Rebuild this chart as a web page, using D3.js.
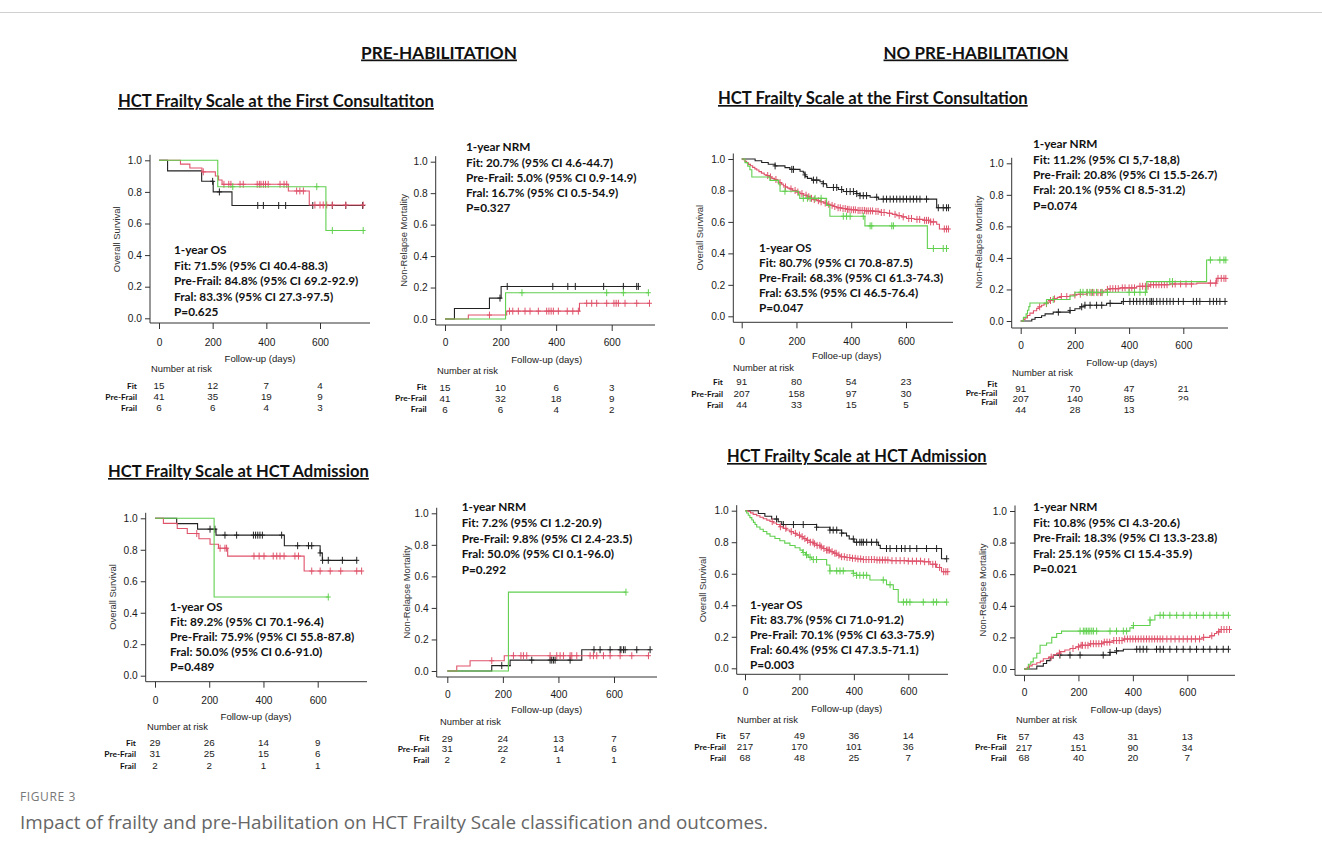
<!DOCTYPE html>
<html>
<head>
<meta charset="utf-8">
<script src="https://cdn.jsdelivr.net/npm/d3@7"></script>
<style>
  body { margin: 0; background: #fff; }
  svg text { font-family: "Liberation Sans", Arial, sans-serif; }
</style>
</head>
<body>
<script>
// shared axis / table values
const xTicks = [0, 200, 400, 600];
const yTicks = [0, 0.2, 0.4, 0.6, 0.8, 1.0];
const groups = ['Fit', 'Pre-Frail', 'Frail'];
const groupColors = ['#222222', '#DF536B', '#61D04F'];

// ---- PRE-HABILITATION, first consultation, OS ----
const A_fit = [[0,1],[32,0.933],[159,0.867],[202,0.8],[272,0.714]];
const A_fitCens = [200,225,368,389,446,472,573,646,696,759];
const A_pre = [[0,1],[80,0.976],[115,0.951],[160,0.927],[210,0.901],[222,0.875],[235,0.848],[482,0.806],[560,0.717]];
const A_preCens = [165,242,260,268,302,314,366,374,380,389,397,407,451,466,476,513,525,538,581,600,612,625,646,696,761];
const A_frail = [[0,1],[219,0.833],[622,0.556]];
const A_frailCens = [275,588,646,761];
const A_notes = ['1-year OS','Fit: 71.5% (95% CI 40.4-88.3)','Pre-Frail: 84.8% (95% CI 69.2-92.9)','Fral: 83.3% (95% CI 27.3-97.5)','P=0.625'];
const A_risk = [[15,12,7,4],[41,35,19,9],[6,6,4,3]];

// ---- PRE-HABILITATION, first consultation, NRM ----
const B_fit = [[0,0],[34,0.067],[160,0.133],[202,0.207]];
const B_fitCens = [198,224,388,442,469,571,642,690,696];
const B_pre = [[0,0],[84,0.025],[222,0.05],[484,0.1]];
const B_preCens = [160,232,244,264,288,306,336,366,374,382,390,408,440,460,480,510,528,546,582,608,616,624,648,690,736];
const B_frail = [[0,0],[218,0.167]];
const B_frailCens = [277,582,642,732];
const B_notes = ['1-year NRM','Fit: 20.7% (95% CI 4.6-44.7)','Pre-Frail: 5.0% (95% CI 0.9-14.9)','Fral: 16.7% (95% CI 0.5-54.9)','P=0.327'];
const B_risk = [[15,10,6,3],[41,32,18,9],[6,6,4,2]];

// ---- NO PRE-HABILITATION, first consultation, OS ----
const C_fit = [[0,1],[49,0.989],[73,0.978],[97,0.967],[122,0.956],[158,0.945],[176,0.934],[213,0.922],[225,0.911],[231,0.899],[232,0.888],[240,0.877],[256,0.866],[286,0.855],[298,0.843],[310,0.831],[311,0.819],[353,0.806],[371,0.793],[420,0.78],[432,0.767],[469,0.757],[499,0.745],[712,0.69]];
const C_fitCens = [122,183,189,231,262,274,298,335,347,365,383,396,408,420,432,444,456,493,517,529,542,554,566,578,590,602,615,627,639,651,675,718,736,748,755];
const C_pre = [[0,1],[6,0.995],[12,0.985],[18,0.976],[25,0.966],[32,0.957],[40,0.947],[48,0.937],[55,0.93],[63,0.92],[72,0.91],[82,0.9],[91,0.895],[100,0.886],[110,0.877],[120,0.87],[128,0.862],[136,0.85],[145,0.84],[152,0.83],[160,0.822],[168,0.815],[176,0.81],[186,0.8],[198,0.79],[213,0.78],[225,0.77],[240,0.76],[250,0.75],[262,0.742],[275,0.735],[286,0.728],[300,0.72],[312,0.712],[322,0.705],[335,0.698],[347,0.69],[365,0.685],[383,0.68],[400,0.677],[420,0.673],[450,0.67],[481,0.667],[505,0.66],[530,0.655],[550,0.648],[566,0.64],[585,0.632],[602,0.622],[630,0.616],[663,0.61],[690,0.6],[712,0.585],[722,0.555]];
const C_preCens = [95,105,125,140,160,180,195,205,220,235,245,255,265,280,290,305,318,330,340,352,360,370,378,386,392,400,408,415,425,432,440,448,455,462,470,478,490,498,510,520,540,560,575,590,610,620,640,650,668,675,682,690,700,740,748,755];
const C_frail = [[0,1],[12,0.977],[22,0.955],[30,0.932],[37,0.886],[103,0.864],[134,0.841],[140,0.795],[207,0.772],[212,0.75],[310,0.705],[322,0.636],[450,0.575],[678,0.431]];
const C_frailCens = [158,225,240,250,268,290,371,383,396,444,469,475,548,554,700,736,748];
const C_notes = ['1-year OS','Fit: 80.7% (95% CI 70.8-87.5)','Pre-Frail: 68.3% (95% CI 61.3-74.3)','Fral: 63.5% (95% CI 46.5-76.4)','P=0.047'];
const C_risk = [[91,80,54,23],[207,158,97,30],[44,33,15,5]];

// ---- NO PRE-HABILITATION, first consultation, NRM ----
const D_fit = [[0,0],[41,0.011],[53,0.022],[77,0.033],[90,0.045],[120,0.056],[182,0.067],[200,0.078],[219,0.09],[237,0.1],[317,0.112],[373,0.124]];
const D_fitCens = [139,182,225,237,256,280,299,330,379,403,416,428,440,452,465,477,483,489,502,514,526,539,551,563,582,600,637,649,661,698,711,723,735,754];
const D_pre = [[0,0],[10,0.01],[16,0.02],[25,0.035],[34,0.05],[47,0.065],[59,0.08],[68,0.09],[77,0.1],[86,0.11],[96,0.12],[108,0.13],[120,0.14],[135,0.15],[150,0.155],[182,0.165],[207,0.17],[243,0.18],[305,0.19],[320,0.2],[330,0.205],[366,0.21],[428,0.22],[477,0.23],[551,0.235],[650,0.24],[723,0.27]];
const D_preCens = [70,95,110,125,150,170,200,220,245,260,270,285,295,300,320,330,340,350,360,375,385,400,410,420,440,450,460,470,480,490,500,510,520,530,540,560,570,590,610,630,700,720,728,740,750,757];
const D_frail = [[0,0],[10,0.023],[20,0.045],[25,0.068],[30,0.091],[34,0.114],[96,0.136],[182,0.159],[200,0.182],[465,0.25],[686,0.387]];
const D_frailCens = [95,120,220,230,245,255,265,280,300,320,400,420,440,460,550,560,700,735,750,757];
const D_notes = ['1-year NRM','Fit: 11.2% (95% CI 5,7-18,8)','Pre-Frail: 20.8% (95% CI 15.5-26.7)','Fral: 20.1% (95% CI 8.5-31.2)','P=0.074'];
const D_risk = [[91,70,47,21],[207,140,85,29],[44,28,13]];

// ---- PRE-HABILITATION, HCT admission, OS ----
const E_fit = [[0,1],[80,0.966],[157,0.931],[225,0.893],[477,0.826],[609,0.78],[617,0.733]];
const E_fitCens = [203,221,258,301,363,371,379,387,396,467,526,566,578,609,618,639,691,744];
const E_pre = [[0,1],[31,0.968],[82,0.935],[119,0.903],[162,0.87],[203,0.835],[234,0.81],[268,0.76],[550,0.665]];
const E_preCens = [154,240,258,264,365,384,402,436,449,461,476,516,529,578,609,646,685,744,762];
const E_frail = [[0,1],[218,0.5]];
const E_frailCens = [639];
const E_notes = ['1-year OS','Fit: 89.2% (95% CI 70.1-96.4)','Pre-Frail: 75.9% (95% CI 55.8-87.8)','Fral: 50.0% (95% CI 0.6-91.0)','P=0.489'];
const E_risk = [[29,26,14,9],[31,25,15,6],[2,2,1,1]];

// ---- PRE-HABILITATION, HCT admission, NRM ----
const F_fit = [[0,0],[160,0.034],[226,0.069],[484,0.135]];
const F_fitCens = [196,220,304,370,376,382,388,442,528,550,586,622,625,634,640,682,730];
const F_pre = [[0,0],[34,0.032],[82,0.065],[205,0.097]];
const F_preCens = [160,238,265,274,286,370,394,406,418,442,448,466,514,526,538,562,586,622,664,724];
const F_frail = [[0,0],[220,0.5]];
const F_frailCens = [643];
const F_notes = ['1-year NRM','Fit: 7.2% (95% CI 1.2-20.9)','Pre-Frail: 9.8% (95% CI 2.4-23.5)','Fral: 50.0% (95% CI 0.1-96.0)','P=0.292'];
const F_risk = [[29,24,13,7],[31,22,14,6],[2,2,1,1]];

// ---- NO PRE-HABILITATION, HCT admission, OS ----
const G_fit = [[0,1],[49,0.982],[73,0.965],[98,0.947],[122,0.93],[135,0.912],[263,0.895],[312,0.877],[355,0.858],[373,0.84],[383,0.82],[401,0.8],[490,0.78],[497,0.76],[722,0.695]];
const G_fitCens = [116,141,178,214,263,312,324,337,355,398,410,422,429,435,447,465,484,520,533,557,575,588,606,631,667,704,741];
const G_pre = [[0,1],[12,0.995],[20,0.986],[30,0.977],[43,0.968],[55,0.958],[67,0.949],[80,0.94],[92,0.931],[104,0.922],[116,0.912],[128,0.898],[140,0.888],[152,0.878],[165,0.867],[178,0.856],[190,0.845],[202,0.835],[214,0.823],[226,0.812],[239,0.8],[251,0.79],[263,0.78],[276,0.77],[288,0.76],[300,0.75],[312,0.74],[325,0.73],[337,0.718],[349,0.708],[367,0.703],[386,0.698],[410,0.694],[435,0.69],[484,0.687],[533,0.683],[600,0.68],[655,0.676],[680,0.66],[704,0.64],[722,0.613]];
const G_preCens = [100,130,150,170,185,200,210,220,230,240,250,255,265,275,280,290,300,305,310,320,330,335,345,355,365,375,385,395,405,415,425,435,445,455,465,475,485,495,505,515,525,540,555,570,585,600,615,630,645,660,675,690,700,715,730,738,745];
const G_frail = [[0,1],[6,0.985],[12,0.971],[18,0.956],[25,0.941],[31,0.926],[37,0.912],[43,0.897],[55,0.882],[67,0.868],[80,0.853],[92,0.838],[110,0.824],[128,0.809],[146,0.794],[165,0.779],[184,0.765],[202,0.75],[212,0.735],[222,0.72],[232,0.705],[245,0.69],[300,0.655],[312,0.618],[398,0.603],[410,0.59],[459,0.56],[520,0.53],[545,0.5],[563,0.42]];
const G_frailCens = [214,226,239,251,263,312,337,349,361,398,410,422,435,447,508,533,582,594,606,655,692,704,741];
const G_notes = ['1-year OS','Fit: 83.7% (95% CI 71.0-91.2)','Pre-Frail: 70.1% (95% CI 63.3-75.9)','Fral: 60.4% (95% CI 47.3.5-71.1)','P=0.003'];
const G_risk = [[57,49,36,14],[217,170,101,36],[68,48,25,7]];

// ---- NO PRE-HABILITATION, HCT admission, NRM ----
const H_fit = [[0,0],[47,0.018],[71,0.035],[83,0.053],[96,0.07],[108,0.088],[316,0.105],[340,0.115],[365,0.125]];
const H_fitCens = [132,169,206,291,316,340,414,426,438,451,487,500,512,536,561,585,610,634,659,683,708,732,751];
const H_pre = [[0,0],[12,0.01],[20,0.02],[30,0.03],[47,0.04],[60,0.05],[71,0.065],[90,0.075],[108,0.09],[120,0.1],[132,0.11],[150,0.12],[169,0.13],[190,0.14],[206,0.15],[242,0.16],[291,0.17],[328,0.18],[365,0.19],[659,0.2],[683,0.21],[700,0.225],[708,0.235],[720,0.25]];
const H_preCens = [100,130,180,200,210,215,225,235,245,255,265,275,285,295,305,315,330,340,350,360,370,380,390,400,410,420,430,440,450,460,470,480,490,500,510,525,540,555,570,585,600,615,630,645,660,690,715,725,735,745,755];
const H_frail = [[0,0],[16,0.03],[25,0.045],[34,0.07],[47,0.1],[59,0.15],[83,0.165],[102,0.2],[120,0.225],[138,0.24],[389,0.26],[402,0.275],[463,0.31],[481,0.34]];
const H_frailCens = [206,218,224,230,236,242,249,255,267,316,340,365,377,402,463,500,512,536,561,585,610,634,659,683,708,732,751];
const H_notes = ['1-year NRM','Fit: 10.8% (95% CI 4.3-20.6)','Pre-Frail: 18.3% (95% CI 13.3-23.8)','Fral: 25.1% (95% CI 15.4-35.9)','P=0.021'];
const H_risk = [[57,43,31,13],[217,151,90,34],[68,40,20,7]];

const W = 1322, H = 859;
const svg = d3.select('body').append('svg').attr('width', W).attr('height', H);

// fit a text element to a measured width
const fitWidth = (sel, w) => {
    const len = sel.node().getComputedTextLength();
    const fs = parseFloat(sel.style('font-size'));
    sel.style('font-size', (fs * w / len) + 'px');
};

const panels = [
  { ylab: 'Overall Survival', xlab: 'Follow-up (days)', curves: [[A_fit,A_fitCens],[A_pre,A_preCens],[A_frail,A_frailCens]], notes: A_notes, risk: A_risk,
    g: { ax: 150, x0: 159, x600: 320, xEnd: 370, y1: 160.3, y0: 318.3, axisY: 323, tickY: 342, xlabX: 260, xlabY: 359, narX: 151, narY: 369, rowY: [386,397,408], rowLabY: [386,397,408], rowLabX: 137, noteX: 174, noteY: 250, noteDy: 15.5, ylabX: 117 } },
  { ylab: 'Non-Relapse Mortality', xlab: 'Follow-up (days)', curves: [[B_fit,B_fitCens],[B_pre,B_preCens],[B_frail,B_frailCens]], notes: B_notes, risk: B_risk,
    g: { ax: 435.7, x0: 445, x600: 611.7, xEnd: 655, y1: 161.7, y0: 319, axisY: 325, tickY: 342.7, xlabX: 546.7, xlabY: 360, narX: 437, narY: 370.7, rowY: [387.3,398.3,409.3], rowLabY: [387.3,398.3,409.3], rowLabX: 426.7, noteX: 466, noteY: 147, noteDy: 15.3, ylabX: 404 } },
  { ylab: 'Overall Survival', xlab: 'Folloe-up (days)', curves: [[C_fit,C_fitCens],[C_pre,C_preCens],[C_frail,C_frailCens]], notes: C_notes, risk: C_risk,
    g: { ax: 733.3, x0: 741.7, x600: 906, xEnd: 953, y1: 159, y0: 316.3, axisY: 322.3, tickY: 341, xlabX: 846.7, xlabY: 356, narX: 733, narY: 367.3, rowY: [382,394,405], rowLabY: [382,394,405], rowLabX: 723, noteX: 759, noteY: 247.3, noteDy: 15.2, ylabX: 700 } },
  { ylab: 'Non-Relapse Mortality', xlab: 'Follow-up (days)', curves: [[D_fit,D_fitCens],[D_pre,D_preCens],[D_frail,D_frailCens]], notes: D_notes, risk: D_risk, clip: { row: 1, col: 3, maxY: 400.5 },
    g: { ax: 1011.7, x0: 1020.7, x600: 1183.3, xEnd: 1228, y1: 163.3, y0: 321, axisY: 328, tickY: 345, xlabX: 1121.7, xlabY: 362.3, narX: 1012, narY: 372.7, rowY: [389,399,410], rowLabY: [384,393,402], rowLabX: 997.3, noteX: 1033, noteY: 144, noteDy: 15.4, ylabX: 979 } },
  { ylab: 'Overall Survival', xlab: 'Follow-up (days)', curves: [[E_fit,E_fitCens],[E_pre,E_preCens],[E_frail,E_frailCens]], notes: E_notes, risk: E_risk,
    g: { ax: 145.7, x0: 155, x600: 317.7, xEnd: 367, y1: 518.3, y0: 675.7, axisY: 681.7, tickY: 700, xlabX: 256, xlabY: 717, narX: 147, narY: 727, rowY: [743,754,766], rowLabY: [743,754,766], rowLabX: 136, noteX: 170, noteY: 606.7, noteDy: 15, ylabX: 113 } },
  { ylab: 'Non-Relapse Mortality', xlab: 'Follow-up (days)', curves: [[F_fit,F_fitCens],[F_pre,F_preCens],[F_frail,F_frailCens]], notes: F_notes, risk: F_risk,
    g: { ax: 436.7, x0: 447.3, x600: 614, xEnd: 657, y1: 513.3, y0: 671, axisY: 677, tickY: 694, xlabX: 546.7, xlabY: 710, narX: 440, narY: 721.7, rowY: [738.3,749,760], rowLabY: [738.3,749,760], rowLabX: 429.3, noteX: 461.7, noteY: 506.7, noteDy: 15.8, ylabX: 406.7 } },
  { ylab: 'Overall Survival', xlab: 'Follow-up (days)', curves: [[G_fit,G_fitCens],[G_pre,G_preCens],[G_frail,G_frailCens]], notes: G_notes, risk: G_risk,
    g: { ax: 736.7, x0: 745, x600: 908.3, xEnd: 948, y1: 510.7, y0: 668.3, axisY: 674.3, tickY: 691.7, xlabX: 846.7, xlabY: 708.3, narX: 737, narY: 719.3, rowY: [736,747,757.7], rowLabY: [736,747,757.7], rowLabX: 726, noteX: 750, noteY: 605, noteDy: 15, ylabX: 703 } },
  { ylab: 'Non-Relapse Mortality', xlab: 'Follow-up (days)', curves: [[H_fit,H_fitCens],[H_pre,H_preCens],[H_frail,H_frailCens]], notes: H_notes, risk: H_risk,
    g: { ax: 1015, x0: 1024, x600: 1187.3, xEnd: 1235, y1: 511, y0: 669, axisY: 675.3, tickY: 692.3, xlabX: 1126, xlabY: 709.3, narX: 1016, narY: 720, rowY: [736.7,747.3,757.7], rowLabY: [736.7,747.3,757.7], rowLabX: 1006.7, noteX: 1033, noteY: 506.7, noteDy: 15.6, ylabX: 983 } }
];

const valueAt = (steps, t) => steps[Math.max(0, d3.bisector(d => d[0]).right(steps, t) - 1)][1];

const drawPanel = (p, pi) => {
    const g = p.g;
    const x = d3.scaleLinear().domain([0, 600]).range([g.x0, g.x600]);
    const y = d3.scaleLinear().domain([0, 1]).range([g.y0, g.y1]);
    const gp = svg.append('g').attr('class', 'panel');

    // L shaped frame
    gp.append('path')
        .attr('d', `M${g.ax},${y(1.035)}V${g.axisY}H${g.xEnd}`)
        .attr('fill', 'none')
        .attr('stroke', '#333')
        .attr('stroke-width', 1);

    const yAxis = gp.append('g')
        .attr('transform', `translate(${g.ax},0)`)
        .call(d3.axisLeft(y).tickValues(yTicks).tickFormat(d3.format('.1f')).tickSize(5).tickPadding(3));
    const xAxis = gp.append('g')
        .attr('transform', `translate(0,${g.axisY})`)
        .call(d3.axisBottom(x).tickValues(xTicks).tickSize(6).tickPadding(g.tickY - g.axisY - 9.6));
    [yAxis, xAxis].forEach(a => {
        a.select('.domain').remove();
        a.selectAll('line').attr('stroke', '#333');
        a.selectAll('text').attr('fill', '#1a1a1a').style('font-size', '10.2px')
            .style('font-family', '"Liberation Sans", Arial, sans-serif');
    });

    // curves
    const line = d3.line().x(d => x(d[0])).y(d => y(d[1])).curve(d3.curveStepAfter);
    p.curves.forEach(([steps, cens], ci) => {
        const end = Math.max(d3.max(cens), steps[steps.length - 1][0]);
        gp.append('path')
            .datum(steps.concat([[end, steps[steps.length - 1][1]]]))
            .attr('d', line)
            .attr('fill', 'none')
            .attr('stroke', groupColors[ci])
            .attr('stroke-width', 1.1);
        gp.selectAll(null)
            .data(cens)
            .enter().append('path')
            .attr('d', t => {
                const cx = x(t), cy = y(valueAt(steps, t));
                return `M${cx},${cy - 3.5}V${cy + 3.5}M${cx - 2.5},${cy}H${cx + 2.5}`;
            })
            .attr('stroke', groupColors[ci])
            .attr('stroke-width', 1);
    });

    // y label
    gp.append('text')
        .attr('transform', `translate(${g.ylabX},${(y(1) + y(0)) / 2}) rotate(-90)`)
        .attr('text-anchor', 'middle')
        .attr('dy', '0.35em')
        .attr('fill', '#333')
        .style('font-size', '9.4px')
        .text(p.ylab);

    // x label
    gp.append('text')
        .attr('x', g.xlabX).attr('y', g.xlabY).attr('dy', '0.35em')
        .attr('text-anchor', 'middle')
        .attr('fill', '#222')
        .style('font-size', '9.6px')
        .text(p.xlab);

    gp.append('text')
        .attr('x', g.narX).attr('y', g.narY).attr('dy', '0.35em')
        .attr('fill', '#222')
        .style('font-size', '9.4px')
        .text('Number at risk');

    // risk table
    const clipId = `clip${pi}`;
    if (p.clip) {
        svg.append('clipPath').attr('id', clipId)
            .append('rect').attr('x', 0).attr('y', 0).attr('width', W).attr('height', p.clip.maxY);
    }
    p.risk.forEach((row, ri) => {
        gp.append('text')
            .attr('x', g.rowLabX).attr('y', g.rowLabY[ri]).attr('dy', '0.35em')
            .attr('text-anchor', 'end')
            .attr('fill', '#111')
            .style('font-family', 'Lato, sans-serif')
            .style('font-weight', 'bold')
            .style('font-size', '8.4px')
            .text(groups[ri]);
        row.forEach((v, ci) => {
            const t = gp.append('text')
                .attr('x', x(xTicks[ci])).attr('y', g.rowY[ri]).attr('dy', '0.35em')
                .attr('text-anchor', 'middle')
                .attr('fill', '#1a1a1a')
                .style('font-size', '9.8px')
                .text(v);
            if (p.clip && p.clip.row === ri && p.clip.col === ci) t.attr('clip-path', `url(#${clipId})`);
        });
    });

    // annotation block
    p.notes.forEach((s, i) => {
        gp.append('text')
            .attr('x', g.noteX).attr('y', g.noteY + i * g.noteDy).attr('dy', '0.36em')
            .attr('fill', '#111')
            .style('font-family', 'Lato, sans-serif')
            .style('font-weight', 'bold')
            .style('font-size', '11.8px')
            .text(s);
    });
};

panels.forEach(drawPanel);

// top rule
svg.append('line')
    .attr('x1', 0).attr('x2', W).attr('y1', 12.5).attr('y2', 12.5)
    .attr('stroke', '#d0d0d0').attr('stroke-width', 1);

// headings
const heads = [
    { text: 'PRE-HABILITATION', x: 439, y: 58.5, w: 156, anchor: 'middle' },
    { text: 'NO PRE-HABILITATION', x: 976, y: 58.5, w: 185, anchor: 'middle' },
    { text: 'HCT Frailty Scale at the First Consultatiton', x: 118, y: 107, w: 316, anchor: 'start' },
    { text: 'HCT Frailty Scale at the First Consultation', x: 718, y: 104, w: 310, anchor: 'start' },
    { text: 'HCT Frailty Scale at HCT Admission', x: 108, y: 477, w: 261, anchor: 'start' },
    { text: 'HCT Frailty Scale at HCT Admission', x: 727, y: 462, w: 260, anchor: 'start' }
];
heads.forEach(h => {
    const t = svg.append('text')
        .attr('x', h.x).attr('y', h.y)
        .attr('text-anchor', h.anchor)
        .attr('fill', '#111')
        .style('font-family', 'Lato, sans-serif')
        .style('font-weight', 'bold')
        .style('font-size', '16px')
        .style('text-decoration', 'underline')
        .text(h.text);
    fitWidth(t, h.w);
});

// caption
svg.append('text')
    .attr('x', 20).attr('y', 801)
    .attr('fill', '#777')
    .style('font-family', '"Open Sans", sans-serif')
    .style('font-size', '12px')
    .style('letter-spacing', '0.6px')
    .text('FIGURE 3');
const cap = svg.append('text')
    .attr('x', 20).attr('y', 829)
    .attr('fill', '#666')
    .style('font-family', '"Open Sans", sans-serif')
    .style('font-size', '16px')
    .text('Impact of frailty and pre-Habilitation on HCT Frailty Scale classification and outcomes.');
fitWidth(cap, 748);
</script>
</body>
</html>
